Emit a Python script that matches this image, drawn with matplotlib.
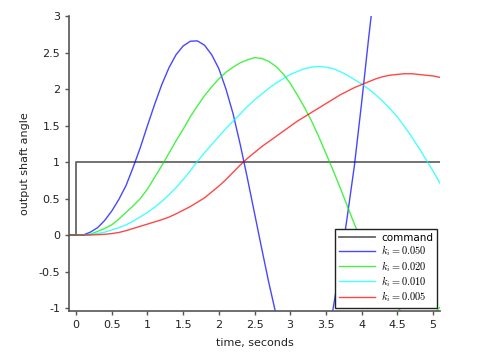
import numpy as np
import matplotlib
matplotlib.use("Agg")
import matplotlib.pyplot as plt

plt.rcParams["axes.unicode_minus"] = False
plt.rcParams["mathtext.fontset"] = "cm"

# sample times, seconds
t = np.round(np.arange(-0.1, 5.15, 0.1), 1)

cmd_t = [-0.1, 0.0, 0.0, 5.1]
cmd_y = [0.0, 0.0, 1.0, 1.0]

labels = ["$k_i = 0.050$", "$k_i = 0.020$", "$k_i = 0.010$", "$k_i = 0.005$"]

ki_050 = [0, 0, 0, 0.04, 0.1, 0.2, 0.33, 0.49, 0.68, 0.93, 1.2, 1.5, 1.79, 2.06,
          2.29, 2.47, 2.59, 2.655, 2.66, 2.6, 2.47, 2.28, 2.0, 1.66, 1.24, 0.78, 0.3,
          -0.18, -0.65, -1.08, -1.5, -1.85, -2.1, -2.2, -2.15, -1.9, -1.5, -1.02,
          -0.42, 0.25, 0.95, 1.8, 2.7, 3.55]
ki_020 = [0, 0, 0, 0.01, 0.05, 0.09, 0.14, 0.22, 0.31, 0.4, 0.5, 0.63, 0.79, 0.95,
          1.12, 1.29, 1.45, 1.62, 1.77, 1.91, 2.03, 2.14, 2.23, 2.3, 2.36, 2.4,
          2.43, 2.42, 2.38, 2.31, 2.21, 2.08, 1.92, 1.75, 1.56, 1.35, 1.12, 0.89,
          0.65, 0.4, 0.15, -0.08, -0.3, -0.5, -0.68, -0.85, -0.99, -1.09, -1.15,
          -1.17, -1.15, -1.09, -0.99]
ki_010 = [0, 0, 0, 0.01, 0.02, 0.04, 0.07, 0.1, 0.14, 0.19, 0.25, 0.31, 0.38,
          0.46, 0.55, 0.65, 0.76, 0.88, 1.01, 1.13, 1.24, 1.35, 1.46, 1.56, 1.66,
          1.76, 1.85, 1.93, 2.01, 2.08, 2.14, 2.2, 2.24, 2.28, 2.3, 2.31, 2.3,
          2.28, 2.24, 2.19, 2.13, 2.07, 2.0, 1.92, 1.83, 1.73, 1.62, 1.49, 1.35,
          1.2, 1.04, 0.88, 0.71]
ki_005 = [0, 0, 0, 0, 0.005, 0.01, 0.02, 0.035, 0.06, 0.09, 0.12, 0.15, 0.18, 0.21,
          0.245, 0.29, 0.34, 0.39, 0.45, 0.51, 0.59, 0.67, 0.76, 0.86, 0.96, 1.05,
          1.13, 1.21, 1.28, 1.35, 1.42, 1.49, 1.56, 1.62, 1.68, 1.74, 1.8, 1.86,
          1.92, 1.97, 2.02, 2.06, 2.1, 2.14, 2.17, 2.19, 2.2, 2.21, 2.21, 2.2,
          2.19, 2.18, 2.16]

series = [ki_050, ki_020, ki_010, ki_005]
colors = ["#0000ff", "#00ee00", "#00ffff", "#ff0000"]

fig = plt.figure(figsize=(5, 3.57), dpi=100)
ax = fig.add_axes([0.138, 0.129, 0.742, 0.826])

ax.plot(cmd_t, cmd_y, color="#333333", lw=1.3, alpha=0.75, label="command")
for ys, c, lab in zip(series, colors, labels):
    ax.plot(t[:len(ys)], ys, color=c, lw=1.0, alpha=0.72, label=lab)

ax.set_xlim(-0.1, 5.1)
ax.set_ylim(-1.04, 3.0)
ax.set_xticks([0, 0.5, 1, 1.5, 2, 2.5, 3, 3.5, 4, 4.5, 5])
ax.set_xticklabels(["0", "0.5", "1", "1.5", "2", "2.5", "3", "3.5", "4", "4.5", "5"])
ax.set_yticks([-1, -0.5, 0, 0.5, 1, 1.5, 2, 2.5, 3])
ax.set_yticklabels(["-1", "-0.5", "0", "0.5", "1", "1.5", "2", "2.5", "3"])

for side in ["top", "right"]:
    ax.spines[side].set_visible(False)
for side in ["left", "bottom"]:
    ax.spines[side].set_color("#555555")
    ax.spines[side].set_linewidth(1.2)
ax.tick_params(direction="out", length=3, width=1, colors="#555555",
               labelcolor="#222222", labelsize=8)

ax.set_xlabel("time, seconds", fontsize=8, color="#222222", labelpad=6)
ax.set_ylabel("output shaft angle", fontsize=8, color="#222222", labelpad=6)

leg = ax.legend(loc="lower right", fontsize=7.5, fancybox=False, framealpha=1,
                edgecolor="#222222", borderpad=0.35, labelspacing=0.05,
                handlelength=3.5, handletextpad=0.6, borderaxespad=0.3)
leg.get_frame().set_linewidth(1.0)

fig.savefig("out.png", dpi=100)
